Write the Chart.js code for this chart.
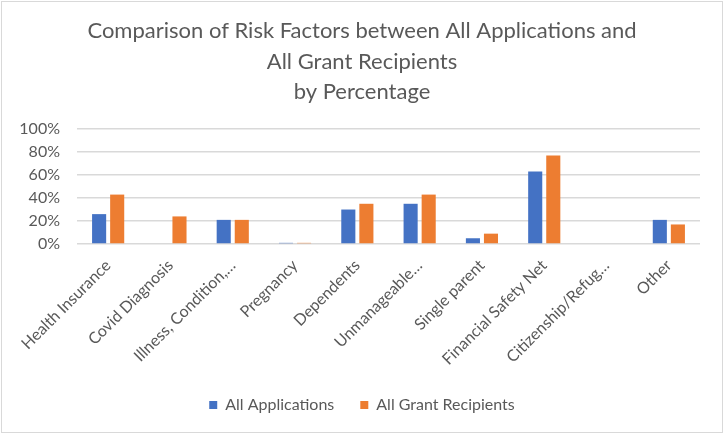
<!DOCTYPE html>
<html>
<head>
<meta charset="utf-8">
<script src="https://cdn.jsdelivr.net/npm/chart.js@4/dist/chart.umd.min.js"></script>
<style>
  html, body { margin: 0; padding: 0; background: #fff; }
  #wrap { position: relative; width: 724px; height: 434px; }
  #frame { position: absolute; left: 1px; top: 1px; width: 720px; height: 430px; border: 1px solid #d9d9d9; pointer-events: none; }
</style>
</head>
<body>
<div id="wrap">
  <canvas id="c"></canvas>
  <div id="frame"></div>
</div>
<script>
const categories = ["Health Insurance", "Covid Diagnosis", "Illness, Condition,…", "Pregnancy", "Dependents", "Unmanageable…", "Single parent", "Financial Safety Net", "Citizenship/Refug…", "Other"];
const allApplications = [26, 0, 21, 1, 30, 35, 5, 63, 0, 21];
const allGrantRecipients = [43, 24, 21, 1, 35, 43, 9, 77, 0, 17];
const yTicks = [0, 20, 40, 60, 80, 100];
const titleLines = ["Comparison of Risk Factors between All Applications and", "All Grant Recipients", "by Percentage"];

const gray = '#595959';
const fontFamily = 'Lato, "Open Sans", sans-serif';

new Chart(document.getElementById('c'), {
  type: 'bar',
  data: {
    labels: categories,
    datasets: [
      { label: 'All Applications', data: allApplications, backgroundColor: '#4472C4', categoryPercentage: 0.58, barPercentage: 0.78 },
      { label: 'All Grant Recipients', data: allGrantRecipients, backgroundColor: '#ED7D31', categoryPercentage: 0.58, barPercentage: 0.78 }
    ]
  },
  options: {
    responsive: true,
    maintainAspectRatio: false,
    animation: false,
    layout: { padding: { left: 0, right: 0, top: 0, bottom: 11 } },
    plugins: {
      title: {
        display: true,
        text: titleLines,
        color: gray,
        font: { family: fontFamily, size: 22, weight: 'normal', lineHeight: 1.38 },
        padding: { top: 16, bottom: 22 }
      },
      legend: {
        position: 'bottom',
        labels: {
          color: gray,
          font: { family: fontFamily, size: 16 },
          boxWidth: 8,
          boxHeight: 8,
          padding: 26
        }
      },
      tooltip: { enabled: false }
    },
    scales: {
      x: {
        grid: { display: false },
        border: { display: false },
        ticks: {
          color: gray,
          font: { family: fontFamily, size: 16 },
          maxRotation: 45,
          minRotation: 45,
          autoSkip: false,
          padding: 4
        },
        afterFit: (s) => { s.height = 127; }
      },
      y: {
        min: 0,
        max: 100,
        afterBuildTicks: (s) => { s.ticks = yTicks.map(v => ({ value: v })); },
        grid: { color: '#d9d9d9', lineWidth: 1.5, drawTicks: false },
        border: { display: false },
        ticks: {
          color: gray,
          font: { family: fontFamily, size: 16 },
          padding: 17,
          callback: (v) => v + '%'
        },
        afterFit: (s) => { s.width = 77; }
      },
      yRight: {
        position: 'right',
        display: true,
        min: 0,
        max: 100,
        grid: { display: false, drawTicks: false },
        border: { display: false },
        ticks: { display: false },
        afterFit: (s) => { s.width = 24; }
      }
    }
  }
});
</script>
</body>
</html>
